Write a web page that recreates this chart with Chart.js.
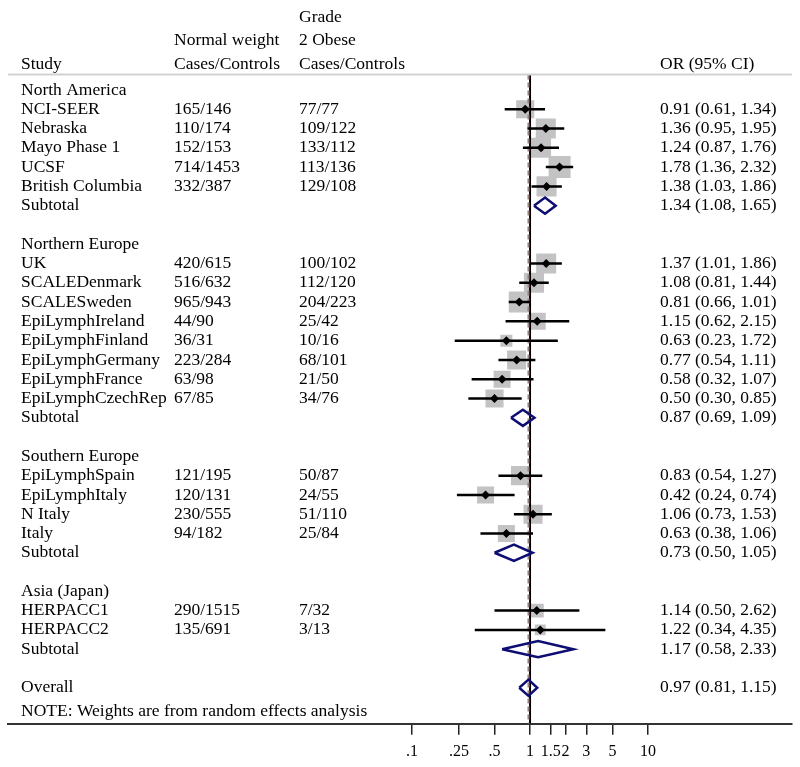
<!DOCTYPE html>
<html>
<head>
<meta charset="utf-8">
<script src="https://cdn.jsdelivr.net/npm/chart.js@4.4.1/dist/chart.umd.min.js"></script>
<style>
  body { margin: 0; background: #fff; }
  #wrap { width: 800px; height: 767px; position: relative; }
</style>
</head>
<body>
<div id="wrap"><canvas id="forest"></canvas></div>
<script>
// Regions and studies
const regions = ['North America', 'Northern Europe', 'Southern Europe', 'Asia (Japan)'];
const studies = ['NCI-SEER', 'Nebraska', 'Mayo Phase 1', 'UCSF', 'British Columbia',
  'UK', 'SCALEDenmark', 'SCALESweden', 'EpiLymphIreland', 'EpiLymphFinland', 'EpiLymphGermany', 'EpiLymphFrance', 'EpiLymphCzechRep',
  'EpiLymphSpain', 'EpiLymphItaly', 'N Italy', 'Italy',
  'HERPACC1', 'HERPACC2'];
const studyRegion = [0, 0, 0, 0, 0, 1, 1, 1, 1, 1, 1, 1, 1, 2, 2, 2, 2, 3, 3];
const normalCounts = ['165/146', '110/174', '152/153', '714/1453', '332/387',
  '420/615', '516/632', '965/943', '44/90', '36/31', '223/284', '63/98', '67/85',
  '121/195', '120/131', '230/555', '94/182',
  '290/1515', '135/691'];
const obeseCounts = ['77/77', '109/122', '133/112', '113/136', '129/108',
  '100/102', '112/120', '204/223', '25/42', '10/16', '68/101', '21/50', '34/76',
  '50/87', '24/55', '51/110', '25/84',
  '7/32', '3/13'];

// Odds ratios with 95% CI
const studyOR = [0.91, 1.36, 1.24, 1.78, 1.38, 1.37, 1.08, 0.81, 1.15, 0.63, 0.77, 0.58, 0.50, 0.83, 0.42, 1.06, 0.63, 1.14, 1.22];
const studyLo = [0.61, 0.95, 0.87, 1.36, 1.03, 1.01, 0.81, 0.66, 0.62, 0.23, 0.54, 0.32, 0.30, 0.54, 0.24, 0.73, 0.38, 0.50, 0.34];
const studyHi = [1.34, 1.95, 1.76, 2.32, 1.86, 1.86, 1.44, 1.01, 2.15, 1.72, 1.11, 1.07, 0.85, 1.27, 0.74, 1.53, 1.06, 2.62, 4.35];
// random effects weights (%)
const studyWeight = [5.2, 6.4, 6.4, 7.7, 6.4, 6.4, 6.4, 7.0, 4.6, 2.3, 5.8, 4.6, 5.2, 5.8, 4.6, 5.8, 4.6, 3.1, 1.9];

const subOR = [1.34, 0.87, 0.73, 1.17];
const subLo = [1.08, 0.69, 0.50, 0.58];
const subHi = [1.65, 1.09, 1.05, 2.33];
const overall = [0.97, 0.81, 1.15];

const tickValues = [0.1, 0.25, 0.5, 1, 1.5, 2, 3, 5, 10];
const tickLabels = ['.1', '.25', '.5', '1', '1.5', '2', '3', '5', '10'];

const headers = [
  ['Study'],
  ['Normal weight', 'Cases/Controls'],
  ['Grade', '2 Obese', 'Cases/Controls'],
  ['OR (95% CI)']
];
const note = 'NOTE: Weights are from random effects analysis';

// ---- build row layout ----
const regionRow = [], studyRow = [], subRow = [];
let r = 0;
regions.forEach((g, gi) => {
  regionRow[gi] = r++;
  studies.forEach((s, i) => { if (studyRegion[i] === gi) studyRow[i] = r++; });
  subRow[gi] = r++;
  r++; // blank line
});
const overallRow = r;
const noteRow = overallRow + 1.25;
const sepRow = -0.8;
const yMin = -4.666, yMax = 32.87;

const fmt = (o, l, h) => `${o.toFixed(2)} (${l.toFixed(2)}, ${h.toFixed(2)})`;

// CI lines, broken by nulls
const ciData = [];
studies.forEach((s, i) => {
  ciData.push({ x: studyLo[i], y: studyRow[i] }, { x: studyHi[i], y: studyRow[i] }, { x: null, y: null });
});

// diamonds for subtotals and overall
const dh = 0.42;
const diamondData = [];
function addDiamond(o, l, h, row) {
  diamondData.push({ x: l, y: row }, { x: o, y: row - dh }, { x: h, y: row }, { x: o, y: row + dh }, { x: l, y: row }, { x: null, y: null });
}
subOR.forEach((o, gi) => addDiamond(o, subLo[gi], subHi[gi], subRow[gi]));
addDiamond(overall[0], overall[1], overall[2], overallRow);

const serif = '"Liberation Serif", "Times New Roman", serif';

const textPlugin = {
  id: 'forestText',
  afterDraw(chart) {
    const ctx = chart.ctx;
    const y = chart.scales.y;
    const cols = [21, 174, 299, 660];
    ctx.save();
    // separator under headers
    ctx.strokeStyle = '#d2d2d2';
    ctx.lineWidth = 2;
    ctx.beginPath();
    ctx.moveTo(chart.chartArea.left, y.getPixelForValue(sepRow));
    ctx.lineTo(chart.chartArea.right, y.getPixelForValue(sepRow));
    ctx.stroke();

    ctx.fillStyle = '#000';
    ctx.font = '17.5px ' + serif;
    ctx.textBaseline = 'middle';
    ctx.textAlign = 'left';
    const headerRows = [-1.32, -2.55, -3.76];
    headers.forEach((lines, c) => {
      lines.slice().reverse().forEach((t, k) => {
        ctx.fillText(t, cols[c], y.getPixelForValue(headerRows[k]));
      });
    });
    regions.forEach((g, gi) => {
      ctx.fillText(g, cols[0], y.getPixelForValue(regionRow[gi]));
      ctx.fillText('Subtotal', cols[0], y.getPixelForValue(subRow[gi]));
      ctx.fillText(fmt(subOR[gi], subLo[gi], subHi[gi]), cols[3], y.getPixelForValue(subRow[gi]));
    });
    studies.forEach((s, i) => {
      const py = y.getPixelForValue(studyRow[i]);
      ctx.fillText(s, cols[0], py);
      ctx.fillText(normalCounts[i], cols[1], py);
      ctx.fillText(obeseCounts[i], cols[2], py);
      ctx.fillText(fmt(studyOR[i], studyLo[i], studyHi[i]), cols[3], py);
    });
    ctx.fillText('Overall', cols[0], y.getPixelForValue(overallRow));
    ctx.fillText(fmt(overall[0], overall[1], overall[2]), cols[3], y.getPixelForValue(overallRow));
    ctx.fillText(note, cols[0], y.getPixelForValue(noteRow));
    ctx.restore();
  }
};

new Chart(document.getElementById('forest'), {
  type: 'scatter',
  data: {
    datasets: [
      {
        // weight boxes
        data: studies.map((s, i) => ({ x: studyOR[i], y: studyRow[i] })),
        pointStyle: 'rect',
        pointRadius: studyWeight.map(w => 7.92 * Math.sqrt(w) / Math.SQRT2),
        backgroundColor: '#c3c3c3',
        borderWidth: 0,
        order: 6
      },
      {
        // line of no effect
        data: [{ x: 1, y: sepRow }, { x: 1, y: yMax }],
        showLine: true, pointRadius: 0,
        borderColor: '#000', borderWidth: 2,
        order: 5
      },
      {
        // overall effect line
        data: [{ x: overall[0], y: sepRow }, { x: overall[0], y: yMax }],
        showLine: true, pointRadius: 0,
        borderColor: '#9c7d7d', borderWidth: 2, borderDash: [5, 3],
        order: 4
      },
      {
        data: ciData,
        showLine: true, spanGaps: false, pointRadius: 0,
        borderColor: '#000', borderWidth: 2.5,
        order: 3
      },
      {
        data: diamondData,
        showLine: true, spanGaps: false, pointRadius: 0,
        borderColor: '#0d0d73', borderWidth: 2.5,
        order: 2
      },
      {
        // point estimates
        data: studies.map((s, i) => ({ x: studyOR[i], y: studyRow[i] })),
        pointStyle: 'rectRot', pointRadius: 4.5,
        backgroundColor: '#000', borderWidth: 0,
        order: 1
      }
    ]
  },
  options: {
    responsive: true,
    maintainAspectRatio: false,
    animation: false,
    layout: { autoPadding: false, padding: { left: 8, right: 8, top: 0, bottom: -1 } },
    plugins: { legend: { display: false }, tooltip: { enabled: false } },
    scales: {
      x: {
        type: 'logarithmic',
        min: Math.pow(10, -4.424),
        max: Math.pow(10, 2.22),
        afterBuildTicks: (scale) => { scale.ticks = tickValues.map(v => ({ value: v })); },
        ticks: {
          autoSkip: false, maxRotation: 0, padding: 7,
          color: '#000',
          font: { family: serif, size: 16 },
          callback: (v) => tickLabels[tickValues.indexOf(v)]
        },
        grid: { drawOnChartArea: false, tickLength: 11, color: '#222', lineWidth: 1.5 },
        border: { color: '#333', width: 2 }
      },
      y: {
        type: 'linear', display: false, reverse: true,
        min: yMin, max: yMax
      }
    }
  },
  plugins: [textPlugin]
});
</script>
</body>
</html>
